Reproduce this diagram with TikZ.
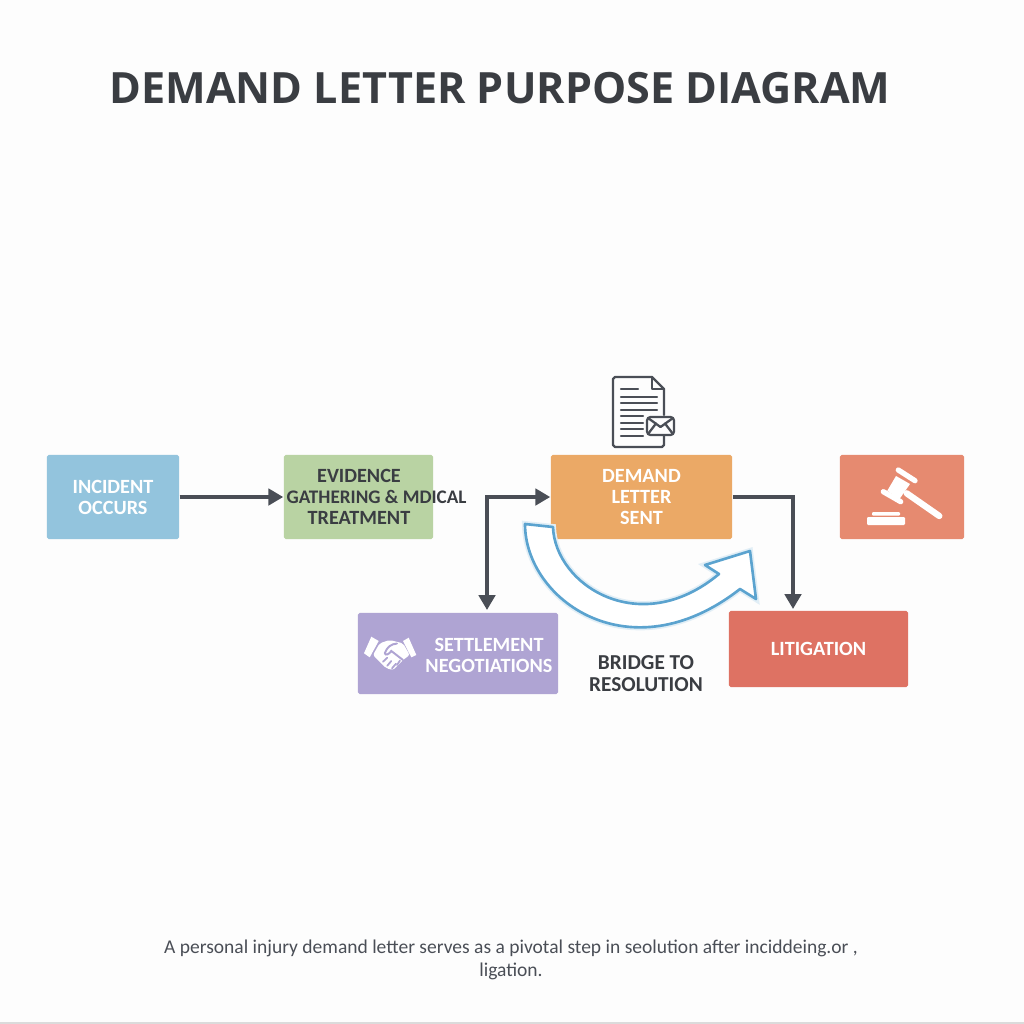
\documentclass[tikz,border=0pt]{standalone}
\usepackage{fontspec}
\setmainfont{Carlito}
\newfontfamily\titlefont{Open Sans}
\usetikzlibrary{arrows.meta}
\definecolor{pagecol}{HTML}{FDFDFD}
\definecolor{inkcol}{HTML}{3A3D42}
\definecolor{linecol}{HTML}{4A4E56}
\definecolor{incidentcol}{HTML}{93C4DD}
\definecolor{evidencecol}{HTML}{B9D3A3}
\definecolor{demandcol}{HTML}{EBA966}
\definecolor{gavelcol}{HTML}{E68A70}
\definecolor{settlecol}{HTML}{AFA4D3}
\definecolor{litigatecol}{HTML}{DE7263}
\definecolor{bridgecol}{HTML}{5BA3CF}
\tikzset{
  flowbox/.style={rectangle, rounded corners=0.5pt, minimum height=0.84cm, inner sep=0pt,
    align=center, font=\fontsize{5.75}{6}\selectfont\bfseries, text=white},
  flowline/.style={draw=linecol, line width=1.15pt, arrows={-Triangle[length=4.2pt,width=4.6pt]}},
  bridgearrow/.style={fill=white, draw=bridgecol, line width=0.75pt, line join=round,
    preaction={draw=bridgecol!18, line width=1.7pt}},
  iconline/.style={draw=linecol, line width=0.65pt, line join=round, line cap=round},
  whiteicon/.style={fill=white, draw=white, line join=round, line cap=round}
}
\begin{document}
\begin{tikzpicture}[x=0.01cm, y=-0.01cm]
            \useasboundingbox (0,0) rectangle (1024,1024);
            \fill[pagecol] (0,0) rectangle (1024,1024);
            \fill[black!14] (0,1022) rectangle (1024,1024);

            % Title and caption
            \node[font=\titlefont\fontsize{12.25}{14}\selectfont\bfseries, text=inkcol] (title) at (500,88) {DEMAND LETTER PURPOSE DIAGRAM};
            \node[font=\fontsize{5.55}{6.5}\selectfont, text=linecol, align=center] (caption) at (511,960) {A personal injury demand letter serves as a pivotal step in seolution after inciddeing.or ,\\ligation.};

            % Nodes
            \node[flowbox, fill=incidentcol, minimum width=1.32cm] (incident) at (113,497) {INCIDENT\\OCCURS};
            \node[flowbox, fill=evidencecol, minimum width=1.49cm] (evidence) at (358.5,497) {};
            \node[flowbox, fill=demandcol, minimum width=1.81cm] (demand) at (641.5,497) {DEMAND\\LETTER\\SENT};
            \node[flowbox, fill=gavelcol, minimum width=1.24cm] (gavel) at (902,497) {};
            \node[flowbox, fill=settlecol, minimum width=2.00cm, minimum height=0.81cm] (settle) at (458,653.5) {};
            \node[flowbox, fill=litigatecol, minimum width=1.79cm, minimum height=0.76cm] (litigate) at (818.5,649) {LITIGATION};

            % Free ends of the elbows
            \coordinate (settleend) at (487,610);
            \coordinate (litigateend) at (793,609);

            % Edges
            \draw[flowline] (incident) -- (evidence);
            \draw[flowline, arrows={Triangle[length=4.2pt,width=4.6pt]-Triangle[length=4.2pt,width=4.6pt]}] (settleend) |- (demand.west);
            \draw[flowline] (demand.east) -| (litigateend);

            % Texts that do not sit in the middle of their box
            \node[flowbox, text=inkcol, minimum height=0pt] (evidencetext) at (359,497) {EVIDENCE\\\makebox[0pt]{\hspace{10pt}\fontsize{5.45}{6}\selectfont GATHERING \& MDICAL}\\TREATMENT};
            \node[flowbox, minimum height=0pt] (settletext) at (489,655) {SETTLEMENT\\NEGOTIATIONS};
            \node[flowbox, text=inkcol, minimum height=0pt, font=\fontsize{6.05}{6.2}\selectfont\bfseries] (bridgetext) at (646,673.5) {BRIDGE TO\\RESOLUTION};

            % Bridge arrow
            \draw[bridgearrow] (525,524) -- (553,527)
              .. controls (555,585) and (640,640) .. (719,574)
              -- (705,565) -- (750,551) -- (756,599) -- (740,589)
              .. controls (630,675) and (525,600) .. (525,524) -- cycle;

            % Letter icon
            \draw[iconline] (664,415) -- (664,389) -- (652,377) -- (615,377)
              to[bend right=20] (613,379) -- (613,445) to[bend right=20] (615,447) -- (662,447)
              to[bend right=20] (664,445) -- (664,436);
            \draw[iconline] (652,377) -- (652,389) -- (664,389);
            \draw[iconline] (621,389) -- (638,389);
            \foreach \y in {397,403,410}
              \draw[iconline] (621,\y) -- (657,\y);
            \foreach \y in {416,423,429,436}
              \draw[iconline] (621,\y) -- (643,\y);
            \draw[iconline, rounded corners=1pt] (647,417) rectangle (674,435);
            \draw[iconline] (648,418) -- (660.5,427) -- (673,418);
            \draw[iconline] (648,434) -- (656,423.5);
            \draw[iconline] (673,434) -- (665,423.5);

            % Gavel icon
            \draw[whiteicon, line width=1.5pt] (898.3,470) -- (915,480.7);
            \draw[whiteicon, line width=1.5pt] (883.3,491.7) -- (900.7,501.7);
            \fill[white] (896,476) -- (910,484) -- (899.3,499.3) -- (887.3,490.7) -- cycle;
            \draw[whiteicon, line width=1.8pt] (906.7,493.3) -- (939.3,516);
            \fill[white, rounded corners=0.3pt] (867,517) rectangle (905,525);
            \fill[white, rounded corners=0.3pt] (872,512) rectangle (900,515.7);

            % Handshake icon
            \fill[white] (371.3,636.7) -- (378.7,641) -- (369.7,657.3) -- (364,653.3) -- cycle;
            \fill[white] (408.7,637.7) -- (416.3,655) -- (411.3,657.3) -- (403,641) -- cycle;
            \fill[white, rounded corners=0.6pt] (379.7,643.3) -- (389.7,640) -- (396.3,641.7) -- (403,643.3)
              -- (409.7,655) -- (403,660) -- (393,670) -- (386.3,668.3) -- (378,660) -- (373,655) -- cycle;
            \draw[settlecol, line width=0.55pt, line cap=round] (384.7,653.3) .. controls (387,647) and (391,644) .. (397,643.5);
            \draw[settlecol, line width=0.55pt, line cap=round] (384.7,653.3) .. controls (386,656) and (389,654) .. (391.3,651) -- (403,660);
            \draw[settlecol, line width=0.5pt, line cap=round] (383,661.7) -- (387.3,657.7);
            \draw[settlecol, line width=0.5pt, line cap=round] (387.3,665.7) -- (391.3,661);
            \draw[settlecol, line width=0.5pt, line cap=round] (392,668.3) -- (396,663.7);
            \draw[settlecol, line width=0.5pt, line cap=round] (397,665) -- (400,660.5);
        \end{tikzpicture}
\end{document}
